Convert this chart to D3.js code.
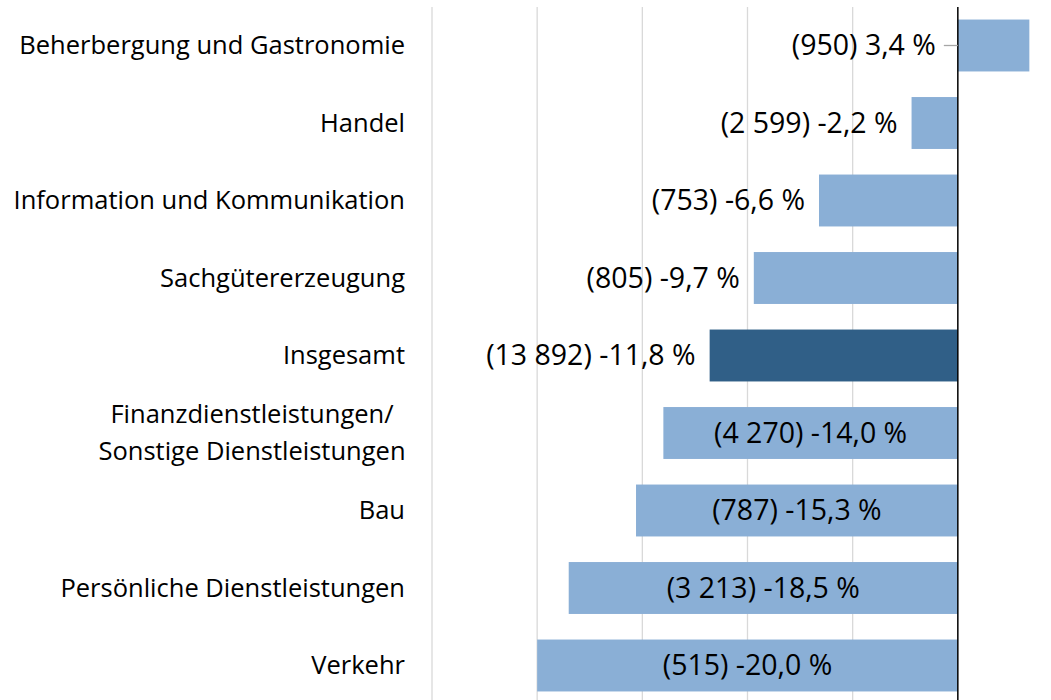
<!DOCTYPE html>
<html>
<head>
<meta charset="utf-8">
<script src="https://cdn.jsdelivr.net/npm/d3@7"></script>
<style>
  body { margin: 0; background: #fff; }
  text { font-family: "Open Sans", Lato, sans-serif; fill: #000; }
</style>
</head>
<body>
<script>
// data
const categories = [
  "Beherbergung und Gastronomie",
  "Handel",
  "Information und Kommunikation",
  "Sachgütererzeugung",
  "Insgesamt",
  "Finanzdienstleistungen/\nSonstige Dienstleistungen",
  "Bau",
  "Persönliche Dienstleistungen",
  "Verkehr"
];
const changes = [3.4, -2.2, -6.6, -9.7, -11.8, -14.0, -15.3, -18.5, -20.0];
const counts = ["950", "2 599", "753", "805", "13 892", "4 270", "787", "3 213", "515"];
const gridTicks = [-25, -20, -15, -10, -5];

const WIDTH = 1051, HEIGHT = 700;
const CAT_FS = 25.5, VAL_FS = 28.5;

const svg = d3.select("body").append("svg")
  .attr("width", WIDTH).attr("height", HEIGHT);

const x = d3.scaleLinear().domain([-25, 5]).range([432, 1063]);
const y = d3.scaleBand().domain(categories).range([6.75, 704.25]).paddingInner(0.33).paddingOuter(0.165);

// gridlines
svg.append("g").selectAll("line").data(gridTicks).join("line")
  .attr("x1", d => x(d)).attr("x2", d => x(d))
  .attr("y1", 7).attr("y2", HEIGHT)
  .attr("stroke", "#d9d9d9").attr("stroke-width", 1.3);

const rows = categories.map((c, i) => ({cat: c, v: changes[i], n: counts[i], total: c === "Insgesamt"}));

// bars
svg.append("g").selectAll("rect").data(rows).join("rect")
  .attr("x", d => x(Math.min(0, d.v)))
  .attr("width", d => Math.abs(x(d.v) - x(0)))
  .attr("y", d => y(d.cat))
  .attr("height", y.bandwidth())
  .attr("fill", d => d.total ? "#305f87" : "#8aafd6");

// zero line
svg.append("line")
  .attr("x1", x(0)).attr("x2", x(0))
  .attr("y1", 7).attr("y2", HEIGHT)
  .attr("stroke", "#000").attr("stroke-width", 1.5);

// category labels
const catG = svg.append("g");
rows.forEach(d => {
  const lines = d.cat.split("\n");
  const cy = y(d.cat) + y.bandwidth() / 2;
  const t = catG.append("text")
    .attr("font-size", CAT_FS)
    .attr("text-anchor", lines.length > 1 ? "middle" : "end");
  lines.forEach((l, k) => {
    t.append("tspan")
      .attr("x", lines.length > 1 ? 252 : 405)
      .attr("y", cy + (k - (lines.length - 1) / 2) * 37)
      .attr("dy", "0.35em")
      .text(l);
  });
});

// value labels
const fmt = v => d3.format(".1f")(v).replace(".", ",").replace("\u2212", "-") + " %";
const lab = svg.append("g");
rows.forEach(d => {
  const cy = y(d.cat) + y.bandwidth() / 2;
  const txt = `(${d.n}) ${fmt(d.v)}`;
  if (d.v > 0) {
    lab.append("line")
      .attr("x1", x(0) - 14).attr("x2", x(0))
      .attr("y1", cy).attr("y2", cy)
      .attr("stroke", "#a6a6a6").attr("stroke-width", 1.3);
    lab.append("text").attr("font-size", VAL_FS).attr("text-anchor", "end")
      .attr("x", x(0) - 22).attr("y", cy).attr("dy", "0.35em").text(txt);
  } else if (d.v > -13) {
    lab.append("text").attr("font-size", VAL_FS).attr("text-anchor", "end")
      .attr("x", x(d.v) - 14).attr("y", cy).attr("dy", "0.35em").text(txt);
  } else {
    lab.append("text").attr("font-size", VAL_FS).attr("text-anchor", "middle")
      .attr("x", (x(d.v) + x(0)) / 2).attr("y", cy).attr("dy", "0.35em").text(txt);
  }
});
</script>
</body>
</html>
